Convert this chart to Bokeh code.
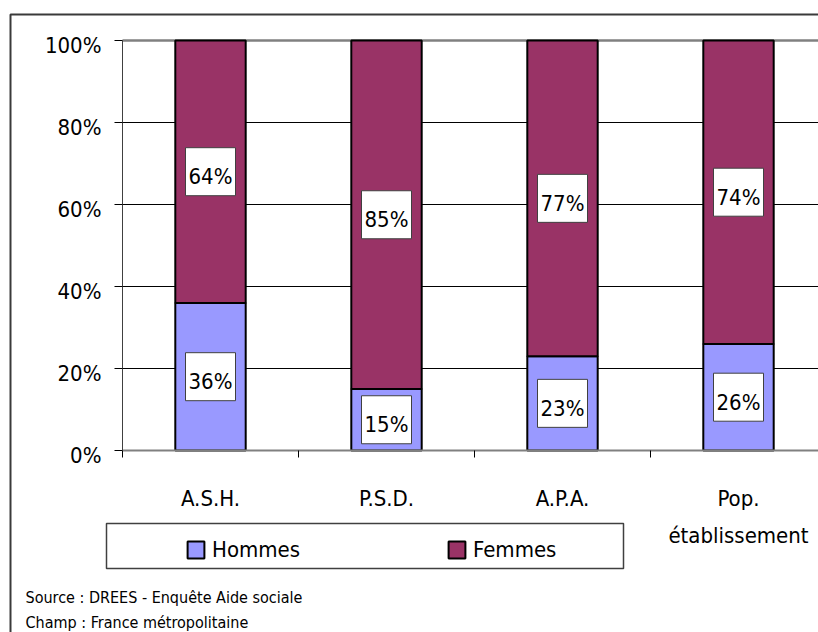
from bokeh.plotting import figure
from bokeh.models import (Range1d, FixedTicker, BoxAnnotation, Label, Legend,
                          LegendItem, ColumnDataSource, PrintfTickFormatter,
                          LinearAxis)
from bokeh.core.properties import value
from bokeh.embed import file_html
from bokeh.resources import INLINE

categories = ["A.S.H.", "P.S.D.", "A.P.A.", "Pop.\nétablissement"]
hommes = [36, 15, 23, 26]
femmes = [64, 85, 77, 74]
y_ticks = [0, 20, 40, 60, 80, 100]
source_lines = ["Source : DREES - Enquête Aide sociale", "Champ : France métropolitaine"]

FONT = "DejaVu Sans Condensed, Liberation Sans, sans-serif"
C_H = "#9999FF"
C_F = "#993366"

W, H = 818, 632
X0, Y0, CAT, PCT = 122, 450, 176, 4.1   # plot-area origin (px), px per category, px per %


def dx(px):
    return (px - X0) / CAT


def dy(py):
    return (Y0 - py) / PCT


xs = [i + 0.5 for i in range(len(categories))]
tops = [h + f for h, f in zip(hommes, femmes)]
src = ColumnDataSource(dict(
    x=xs, h=hommes, f=femmes, top=tops,
    hmid=[h / 2 for h in hommes],
    fmid=[h + f / 2 for h, f in zip(hommes, femmes)],
    hlab=[f"{h}%" for h in hommes],
    flab=[f"{f}%" for f in femmes],
))

XMAX = dx(W)
p = figure(width=W, height=H, output_backend="svg", toolbar_location=None,
           x_range=Range1d(dx(0), XMAX), y_range=Range1d(dy(H), dy(0)),
           min_border=0, x_axis_location=None, y_axis_location=None)
p.outline_line_color = None
p.background_fill_color = "white"
p.border_fill_color = "white"
p.xgrid.visible = False
p.ygrid.visible = False

# outer chart border
p.add_layout(BoxAnnotation(left=dx(10), right=dx(2000), top=dy(14), bottom=dy(2000),
                           fill_alpha=0, line_color="#3a3a3a", line_alpha=1,
                           line_width=2, level="underlay"))

# horizontal gridlines
grid_y = y_ticks[1:-1]
p.segment(x0=0, x1=XMAX, y0=grid_y, y1=grid_y, line_color="black", line_width=1)
p.segment(x0=0, x1=XMAX, y0=y_ticks[-1], y1=y_ticks[-1], line_color="#808080",
          line_width=2.5)

# bars
rh = p.vbar(x="x", bottom=0, top="h", width=0.4, source=src,
            fill_color=C_H, line_color="black", line_width=2)
rf = p.vbar(x="x", bottom="h", top="top", width=0.4, source=src,
            fill_color=C_F, line_color="black", line_width=2)

# data labels
for mid, lab in (("hmid", "hlab"), ("fmid", "flab")):
    p.rect(x="x", y=mid, width=50, height=48, width_units="screen",
           height_units="screen", source=src, fill_color="white",
           line_color="#404040", line_width=1)
    p.text(x="x", y=mid, text=lab, source=src, text_font=value(FONT),
           text_font_size="22px", text_align="center",
           text_baseline="middle", y_offset=5, text_color="black")

# y axis: line + ticks
yax = LinearAxis(fixed_location=0, bounds=(0, 100), ticker=FixedTicker(ticks=y_ticks),
                 major_tick_in=0, major_tick_out=8, minor_tick_line_color=None,
                 axis_line_color="#404040", major_tick_line_color="black",
                 major_label_text_color=None)
p.add_layout(yax, "left")
# y axis labels (sit 5px below their tick, as in the reference)
p.extra_y_ranges = {"lab": Range1d(dy(H) + 5 / PCT, dy(0) + 5 / PCT)}
ylab = LinearAxis(fixed_location=0, y_range_name="lab", ticker=FixedTicker(ticks=y_ticks),
                  formatter=PrintfTickFormatter(format="%d%%"), axis_line_color=None,
                  major_tick_line_color=None, minor_tick_line_color=None,
                  major_tick_in=0, major_tick_out=8, major_label_standoff=13,
                  major_label_text_font=FONT, major_label_text_font_size="22px",
                  major_label_text_color="black")
p.add_layout(ylab, "left")

# x axis
xax = LinearAxis(fixed_location=0, bounds=(0, XMAX),
                 ticker=FixedTicker(ticks=xs, minor_ticks=list(range(len(categories) + 1))),
                 major_label_overrides={x: c for x, c in zip(xs, categories)},
                 major_tick_in=0, major_tick_out=0, minor_tick_in=0, minor_tick_out=7,
                 minor_tick_line_color="black", axis_line_color="#808080",
                 axis_line_width=2, major_label_standoff=28,
                 major_label_text_font=FONT, major_label_text_font_size="22px",
                 major_label_text_color="black", major_label_text_line_height=1.5)
p.add_layout(xax, "below")

# legend frame
p.add_layout(BoxAnnotation(left=dx(106), right=dx(623), top=dy(523), bottom=dy(568),
                           fill_color="white", fill_alpha=1, line_color="#404040",
                           line_alpha=1, line_width=1.5))

legend = Legend(items=[LegendItem(label="Hommes", renderers=[rh]),
                       LegendItem(label="Femmes", renderers=[rf])],
                orientation="horizontal", location=(185, H - 562),
                glyph_width=21, glyph_height=21, label_standoff=6,
                label_width=100, spacing=134, padding=0, margin=0,
                border_line_alpha=0, background_fill_alpha=0,
                label_text_font=FONT, label_text_font_size="22px",
                label_text_color="black")
p.add_layout(legend)

for txt, base in zip(source_lines, [597, 622]):
    p.add_layout(Label(x=dx(25), y=dy(base), text=txt, text_font=FONT,
                       text_font_size="16px", text_baseline="alphabetic",
                       text_color="black"))

open("out.html", "w").write(file_html(p, INLINE))
